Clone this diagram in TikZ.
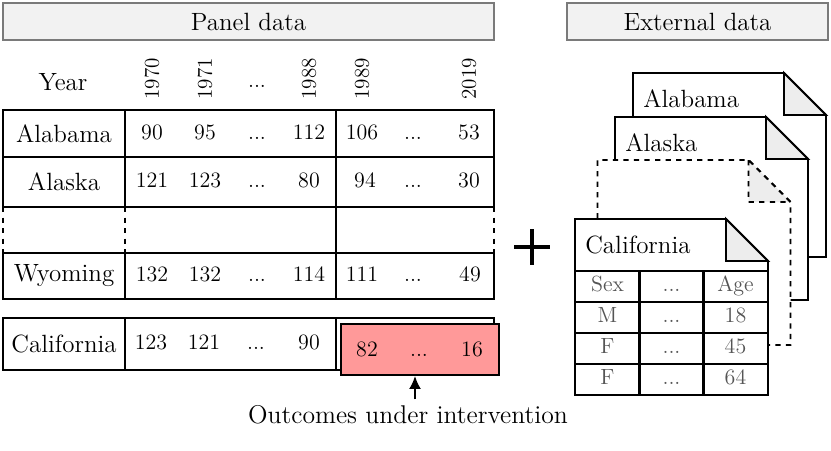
\documentclass[tikz,border=0pt]{standalone}
\usepackage{tikz}
\usetikzlibrary{arrows.meta,positioning,calc}
\definecolor{headfill}{HTML}{F2F2F2}
\definecolor{headline}{HTML}{7A7A7A}
\definecolor{outred}{HTML}{FF9999}
\definecolor{foldfill}{HTML}{EDEDED}
\definecolor{txtgray}{HTML}{555555}
\newcommand{\fsz}[1]{\fontsize{#1}{#1}\selectfont}
\newcommand{\ddd}{...}
\tikzset{
  head/.style={draw=headline, fill=headfill, line width=0.8pt, minimum height=0.74cm, font=\fsz{14.2}},
  cell/.style={draw, line width=1.1pt, outer sep=0pt, inner sep=0pt, font=\fsz{14.2}},
  num/.style={font=\fsz{12.5}, inner sep=1pt, text height=1.5ex, text depth=0pt},
  year/.style={rotate=90, anchor=west, inner sep=0pt, font=\fsz{12}},
  docline/.style={line width=1.1pt, fill=white},
  docnode/.style={minimum width=3.86cm, inner sep=0pt, outer sep=0pt},
  ecell/.style={draw, line width=1.1pt, minimum width=1.29cm, minimum height=0.62cm, inner sep=0pt,
    text=txtgray, font=\fsz{12.5}, text height=1.6ex, text depth=0.25ex},
  line/.style={-{Latex[length=2.6mm,width=2.4mm]}, line width=1.1pt}
}

\begin{document}
\begin{tikzpicture}
  \useasboundingbox (0,0) rectangle (16.62,-9);
  % headers
  \node[head, minimum width=9.82cm] (panel) at (4.97,-0.43) {Panel data};
  \node[head, minimum width=5.22cm] (external) at (13.95,-0.43) {External data};

  % years
  \node[font=\fsz{14.2}] (year) at (1.26,-1.64) {Year};
  \foreach \x/\y [count=\i] in {3.04/1970, 4.10/1971, 6.18/1988, 7.24/1989, 9.38/2019}
    \node[year] (yr\i) at (\x,-2.0) {\y};
  \node[num] (yrdots) at (5.14,-1.64) {\ddd};

  % panel rows
  \foreach \nm/\st/\yy/\hh in {alabama/Alabama/-2.67/0.94, alaska/Alaska/-3.64/1.0,
      wyoming/Wyoming/-5.52/0.92, california/California/-6.88/1.04}
  {
    \node[cell, minimum width=2.44cm, minimum height=\hh cm] (\nm) at (1.28,\yy) {\st};
    \node[cell, minimum width=4.22cm, minimum height=\hh cm] (\nm-a) at (4.61,\yy) {};
    \node[cell, minimum width=3.16cm, minimum height=\hh cm] (\nm-b) at (8.30,\yy) {};
  }
  \draw[dashed, line width=1.1pt] (alaska.south west) -- (wyoming.north west);
  \draw[dashed, line width=1.1pt] (alaska.south east) -- (wyoming.north east);
  \draw[line width=1.1pt] (alaska-b.south west) -- (wyoming-b.north west);
  \draw[dashed, line width=1.1pt] (alaska-b.south east) -- (wyoming-b.north east);

  \foreach \x/\v [count=\i] in {3.04/90, 4.10/95, 5.14/\ddd, 6.18/112, 7.24/106, 8.26/\ddd, 9.38/53}
    \node[num] (alabama-\i) at (\x,-2.67) {\v};
  \foreach \x/\v [count=\i] in {3.04/121, 4.10/123, 5.14/\ddd, 6.18/80, 7.30/94, 8.26/\ddd, 9.38/30}
    \node[num] (alaska-\i) at (\x,-3.64) {\v};
  \foreach \x/\v [count=\i] in {3.04/132, 4.10/132, 5.14/\ddd, 6.18/114, 7.24/111, 8.26/\ddd, 9.40/49}
    \node[num] (wyoming-\i) at (\x,-5.52) {\v};
  \foreach \x/\v [count=\i] in {3.02/123, 4.08/121, 5.12/\ddd, 6.18/90}
    \node[num] (california-\i) at (\x,-6.88) {\v};

  % counterfactual outcomes
  \node[draw, fill=outred, line width=1.1pt, minimum width=3.16cm, minimum height=1.02cm] (outcome) at (8.40,-6.99) {};
  \foreach \x/\v [count=\i] in {7.34/82, 8.38/\ddd, 9.44/16}
    \node[num] (out-\i) at (\x,-7.02) {\v};
  \node[font=\fsz{14.6}] (label) at (8.16,-8.30) {Outcomes under intervention};
  \path (label.north) ++(0.14,0) coordinate (foot);
  \draw[line] (foot) -- (foot |- outcome.south);

  % plus
  \node[minimum size=0.7cm, inner sep=0pt] (plus) at (10.64,-4.94) {};
  \draw[line width=2.4pt] (plus.north) -- (plus.south) (plus.west) -- (plus.east);

  % external documents
  \foreach \n/\x/\y/\h/\st in {1/14.59/-3.30/3.68/solid, 2/14.23/-4.17/3.66/solid,
      3/13.88/-5.05/3.70/dashed, 4/13.43/-6.14/3.52/solid}
  {
    \node[docnode, minimum height=\h cm] (doc\n) at (\x,\y) {};
    \draw[docline, \st] (doc\n.south west) -- (doc\n.north west) -- ([xshift=-0.84cm]doc\n.north east)
      -- ([yshift=-0.84cm]doc\n.north east) -- (doc\n.south east) -- cycle;
    \draw[docline, \st, fill=foldfill] ([xshift=-0.84cm]doc\n.north east)
      -- ([xshift=-0.84cm,yshift=-0.84cm]doc\n.north east) -- ([yshift=-0.84cm]doc\n.north east) -- cycle;
  }
  \foreach \n/\t in {1/Alabama, 2/Alaska, 4/California}
    \node[anchor=west, inner sep=0pt, font=\fsz{14.2}] (title\n) at ([shift={(0.2,-0.52)}]doc\n.north west) {\t};

  % table inside California
  \foreach \a/\b/\c [count=\r from 0] in {Sex/\ddd/Age, M/\ddd/18, F/\ddd/45, F/\ddd/64}
  {
    \node[ecell] (ec\r-1) at (12.15,{-5.73-0.62*\r}) {\a};
    \node[ecell] (ec\r-2) at (13.43,{-5.73-0.62*\r}) {\b};
    \node[ecell] (ec\r-3) at (14.71,{-5.73-0.62*\r}) {\c};
  }
\end{tikzpicture}
\end{document}
